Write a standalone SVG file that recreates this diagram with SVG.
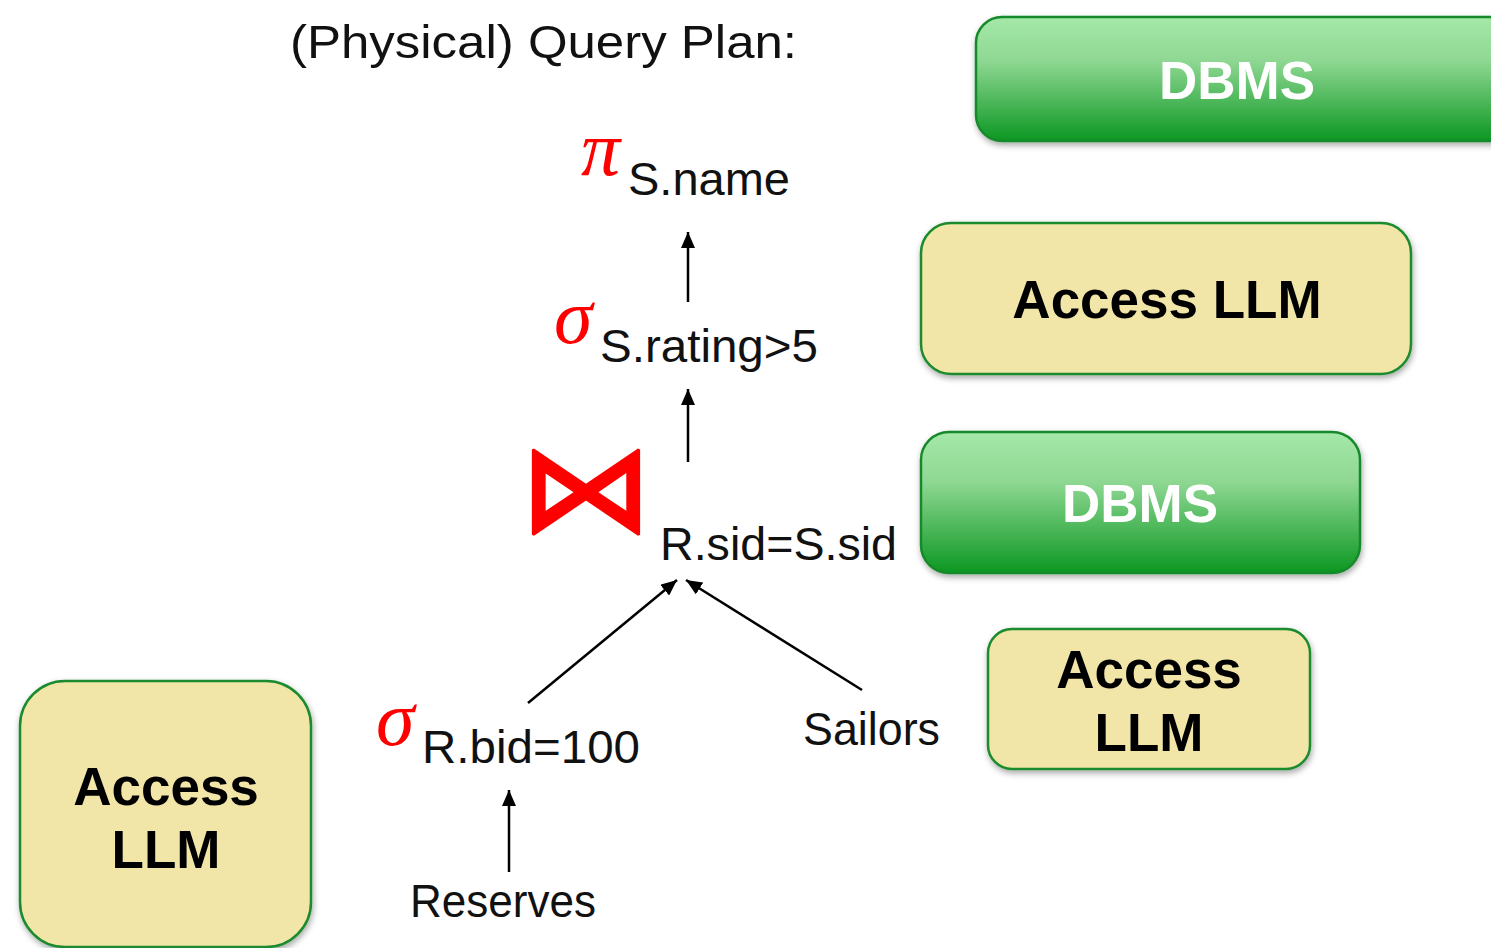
<svg xmlns="http://www.w3.org/2000/svg" width="1491" height="948" viewBox="0 0 1491 948">
  <defs>
    <linearGradient id="dbmsFill" x1="0" y1="0" x2="0" y2="1">
      <stop offset="0" stop-color="#a5e8a8"/>
      <stop offset="0.35" stop-color="#8fd893"/>
      <stop offset="1" stop-color="#0c9722"/>
    </linearGradient>
    <filter id="shadow" x="-10%" y="-10%" width="120%" height="130%">
      <feDropShadow dx="1" dy="3" stdDeviation="3" flood-color="#000" flood-opacity="0.35"/>
    </filter>
    <marker id="head" viewBox="0 0 16 14" refX="16" refY="7" markerWidth="16" markerHeight="14" markerUnits="userSpaceOnUse" orient="auto">
      <path d="M0,0 L16,7 L0,14 z" fill="#000"/>
    </marker>
    <style>
      .dbms { fill: url(#dbmsFill); stroke: #178a2b; stroke-width: 2.5; filter: url(#shadow); }
      .llm { fill: #f1e5a8; stroke: #1b8b2f; stroke-width: 2.5; filter: url(#shadow); }
      .dbmsText { font-family: "Liberation Sans", Arial, sans-serif; font-weight: bold; font-size: 53px; fill: #fff; text-anchor: middle; }
      .llmText { font-family: "Liberation Sans", Arial, sans-serif; font-weight: bold; font-size: 53px; fill: #000; text-anchor: middle; }
      .label { font-family: "Liberation Sans", Arial, sans-serif; font-size: 47px; fill: #111; }
      .greek { font-family: "Liberation Serif", "Times New Roman", serif; font-style: italic; font-size: 78px; fill: #f00; }
      .join { font-family: "DejaVu Serif", serif; font-size: 100px; fill: #f00; stroke: #f00; stroke-width: 2; stroke-linejoin: bevel; }
      .edge { stroke: #000; stroke-width: 2.5; fill: none; marker-end: url(#head); }
    </style>
  </defs>

  <rect width="1491" height="948" fill="#fff"/>

  <!-- title -->
  <text class="label" x="290" y="58" font-size="50" fill="#000" textLength="507" lengthAdjust="spacingAndGlyphs">(Physical) Query Plan:</text>

  <!-- plan operators -->
  <g id="project">
    <text class="greek" x="581" y="175">π</text>
    <text class="label" x="628" y="195" textLength="162" lengthAdjust="spacingAndGlyphs">S.name</text>
  </g>
  <g id="select-rating">
    <text class="greek" x="554" y="343">σ</text>
    <text class="label" x="600" y="362" textLength="218" lengthAdjust="spacingAndGlyphs">S.rating&gt;5</text>
  </g>
  <g id="join">
    <text class="join" x="0" y="0" transform="translate(519,531) scale(1.34,1.24)">⋈</text>
    <text class="label" x="660" y="560" textLength="237" lengthAdjust="spacingAndGlyphs">R.sid=S.sid</text>
  </g>
  <g id="select-bid">
    <text class="greek" x="376" y="745">σ</text>
    <text class="label" x="422" y="763" textLength="218" lengthAdjust="spacingAndGlyphs">R.bid=100</text>
  </g>
  <g id="sailors">
    <text class="label" x="803" y="745" textLength="137" lengthAdjust="spacingAndGlyphs">Sailors</text>
  </g>
  <g id="reserves">
    <text class="label" x="410" y="917" textLength="186" lengthAdjust="spacingAndGlyphs">Reserves</text>
  </g>

  <!-- plan edges -->
  <g id="connectors">
    <line class="edge" x1="688" y1="302" x2="688" y2="232"/>
    <line class="edge" x1="688" y1="462" x2="688" y2="389"/>
    <line class="edge" x1="528" y1="703" x2="677" y2="580"/>
    <line class="edge" x1="862" y1="690" x2="686" y2="580"/>
    <line class="edge" x1="509" y1="872" x2="509" y2="790"/>
  </g>

  <!-- execution engines -->
  <g id="dbms-top">
    <rect class="dbms" x="976" y="17" width="540" height="124" rx="26"/>
    <text class="dbmsText" x="1237" y="99">DBMS</text>
  </g>
  <g id="llm-select-rating">
    <rect class="llm" x="921" y="223" width="490" height="151" rx="30"/>
    <text class="llmText" x="1167" y="318">Access LLM</text>
  </g>
  <g id="dbms-join">
    <rect class="dbms" x="921" y="432" width="439" height="141" rx="28"/>
    <text class="dbmsText" x="1140" y="522">DBMS</text>
  </g>
  <g id="llm-sailors">
    <rect class="llm" x="988" y="629" width="322" height="140" rx="24"/>
    <text class="llmText" x="1149" y="688">Access</text>
    <text class="llmText" x="1149" y="751">LLM</text>
  </g>
  <g id="llm-reserves">
    <rect class="llm" x="20" y="681" width="291" height="266" rx="45"/>
    <text class="llmText" x="166" y="805">Access</text>
    <text class="llmText" x="166" y="868">LLM</text>
  </g>
</svg>
